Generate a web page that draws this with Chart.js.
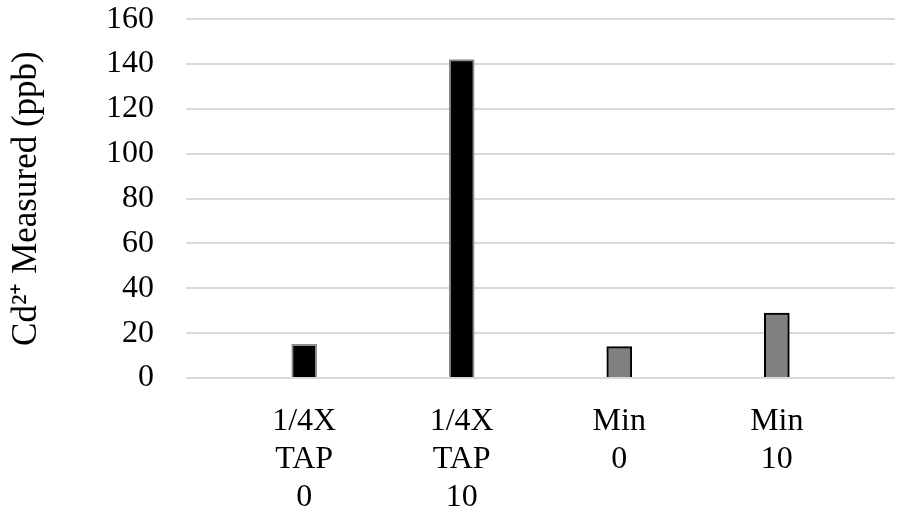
<!DOCTYPE html>
<html>
<head>
<meta charset="utf-8">
<script src="https://cdn.jsdelivr.net/npm/chart.js@4"></script>
<style>
  body { margin: 0; background: #fff; }
  canvas { display: block; }
</style>
</head>
<body>
<canvas id="chart" width="900" height="513"></canvas>
<script>
// Data
const categories = [['1/4X', 'TAP', '0'], ['1/4X', 'TAP', '10'], ['Min', '0'], ['Min', '10']];
const values = [15, 142, 14, 29];
const yTicks = [0, 20, 40, 60, 80, 100, 120, 140, 160];

const fills = ['#000000', '#000000', '#808080', '#808080'];
const borders = ['#8c8c8c', '#8c8c8c', '#000000', '#000000'];
const serif = "'Liberation Serif', 'Times New Roman', serif";
const font = { family: serif, size: 32, lineHeight: 1.2 };

new Chart(document.getElementById('chart').getContext('2d'), {
  type: 'bar',
  data: {
    datasets: [{
      data: values.map((v, i) => ({ x: i, y: v })),
      backgroundColor: fills,
      borderColor: borders,
      borderWidth: 2,
      barThickness: 25
    }]
  },
  options: {
    responsive: false,
    animation: false,
    layout: { padding: { top: 0, right: 5, left: 6, bottom: 0 } },
    plugins: { legend: { display: false }, tooltip: { enabled: false } },
    scales: {
      x: {
        type: 'linear',
        offset: false,
        min: -0.75,
        max: 3.75,
        afterBuildTicks: function (scale) {
          scale.ticks = categories.map((c, i) => ({ value: i }));
        },
        afterFit: function (scale) {
          scale.height = 135;
        },
        ticks: {
          color: '#000',
          font: font,
          padding: 24,
          maxRotation: 0,
          autoSkip: false,
          callback: function (value) { return categories[value]; }
        },
        grid: { display: false, drawTicks: false },
        border: { display: false }
      },
      y: {
        min: 0,
        max: 160,
        afterBuildTicks: function (scale) {
          scale.ticks = yTicks.map(v => ({ value: v }));
        },
        ticks: { color: '#000', font: font, padding: 0, autoSkip: false },
        grid: { color: '#d9d9d9', lineWidth: 2, drawTicks: true, tickLength: 32, tickColor: 'rgba(0,0,0,0)' },
        border: { display: false },
        title: {
          display: true,
          text: 'Cd²⁺ Measured (ppb)',
          color: '#000',
          font: { family: serif, size: 35, lineHeight: 1.2 },
          padding: { top: 0, bottom: 58 }
        }
      }
    }
  }
});
</script>
</body>
</html>
